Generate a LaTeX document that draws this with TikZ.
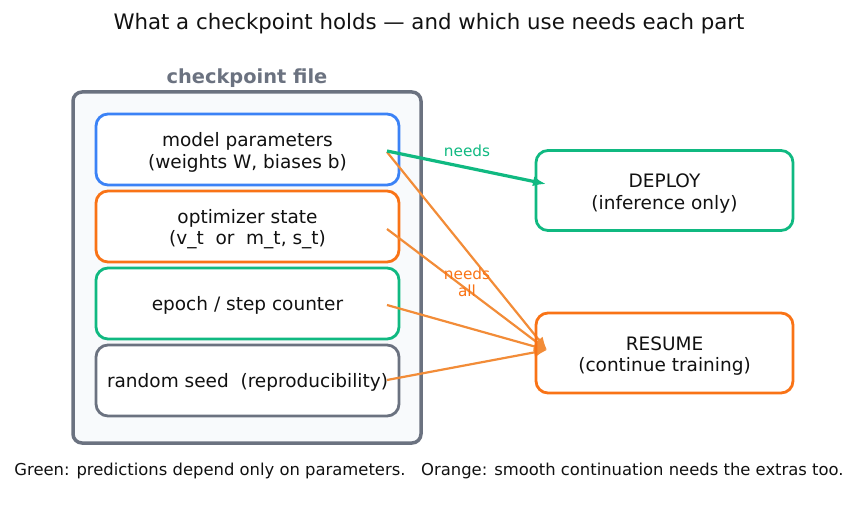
\documentclass[tikz,border=0pt]{standalone}
\usepackage{fontspec}
\setmainfont{DejaVu Sans}
\usetikzlibrary{arrows.meta}
\definecolor{cgray}{HTML}{6B7280}
\definecolor{cblue}{HTML}{3B82F6}
\definecolor{cgreen}{HTML}{10B981}
\definecolor{corange}{HTML}{F97316}
\definecolor{carrow}{HTML}{F28C38}
\definecolor{cfill}{HTML}{F8FAFC}
\definecolor{ctext}{HTML}{111111}
\newcommand{\tl}{\rule{0pt}{19.5pt}}
\begin{document}
\begin{tikzpicture}[x=1pt,y=-1pt,
  part/.style={draw, line width=2.8pt, rounded corners=12pt, fill=white, minimum width=303pt, minimum height=71pt, align=center, font=\fontsize{18.5}{21.5}\selectfont, text=ctext},
  use/.style={draw, line width=2.8pt, rounded corners=12pt, minimum width=257pt, minimum height=80pt, align=center, font=\fontsize{18.5}{21.5}\selectfont, text=ctext},
  oneline/.style={execute at begin node={\rule{0pt}{18pt}}},
  lbl/.style={font=\fontsize{15.3}{17}\selectfont, align=center},
  oarrow/.style={draw=carrow, line width=2.2pt, -{Latex[length=13pt,width=10pt]}},
  garrow/.style={draw=cgreen, line width=3.2pt, -{Latex[length=13pt,width=10pt]}}
]
\useasboundingbox (0,0) rectangle (858,508);
\node[font=\fontsize{21.3}{24}\selectfont, text=ctext] (title) at (429,24) {What a checkpoint holds — and which use needs each part};
\node[font=\bfseries\fontsize{19.4}{22}\selectfont, text=cgray] (ftitle) at (247,78) {checkpoint file};
\node[draw=cgray, line width=3.5pt, fill=cfill, rounded corners=9pt, minimum width=348pt, minimum height=351pt] (file) at (247,267.5) {};
\node[part, draw=cblue] (p1) at (247.5,149.5) {\tl model parameters\\(weights W, biases b)};
\node[part, draw=corange] (p2) at (247.5,226.5) {\tl optimizer state\\(v\_t\ \ or\ \ m\_t, s\_t)};
\node[part, oneline, draw=cgreen] (p3) at (247.5,303.5) {epoch / step counter};
\node[part, oneline, draw=cgray] (p4) at (247.5,380.5) {random seed\ \ (reproducibility)};
\coordinate (s1) at (387,151);
\coordinate (s1b) at (387,152);
\coordinate (s2) at (387,229);
\coordinate (s3) at (387,305);
\coordinate (s4) at (387,380);
\coordinate (tdep) at (546,184);
\coordinate (tres) at (547,350);
\draw[oarrow] (s1b) -- (tres);
\draw[oarrow] (s2) -- (tres);
\draw[oarrow] (s3) -- (tres);
\draw[oarrow] (s4) -- (tres);
\draw[garrow] (s1) -- (tdep);
\node[use, draw=cgreen] (dep) at (664.5,190.5) {\tl DEPLOY\\(inference only)};
\node[use, draw=corange] (res) at (664.5,353) {\tl RESUME\\(continue training)};
\node[lbl, text=cgreen] (nd) at (467,151) {needs};
\node[lbl, text=corange] (na) at (467,282) {needs\\all};
\node[font=\fontsize{16.4}{19}\selectfont, text=ctext] (foot) at (429,471) {Green: predictions depend only on parameters.\ \ \ Orange: smooth continuation needs the extras too.};
\end{tikzpicture}
\end{document}
